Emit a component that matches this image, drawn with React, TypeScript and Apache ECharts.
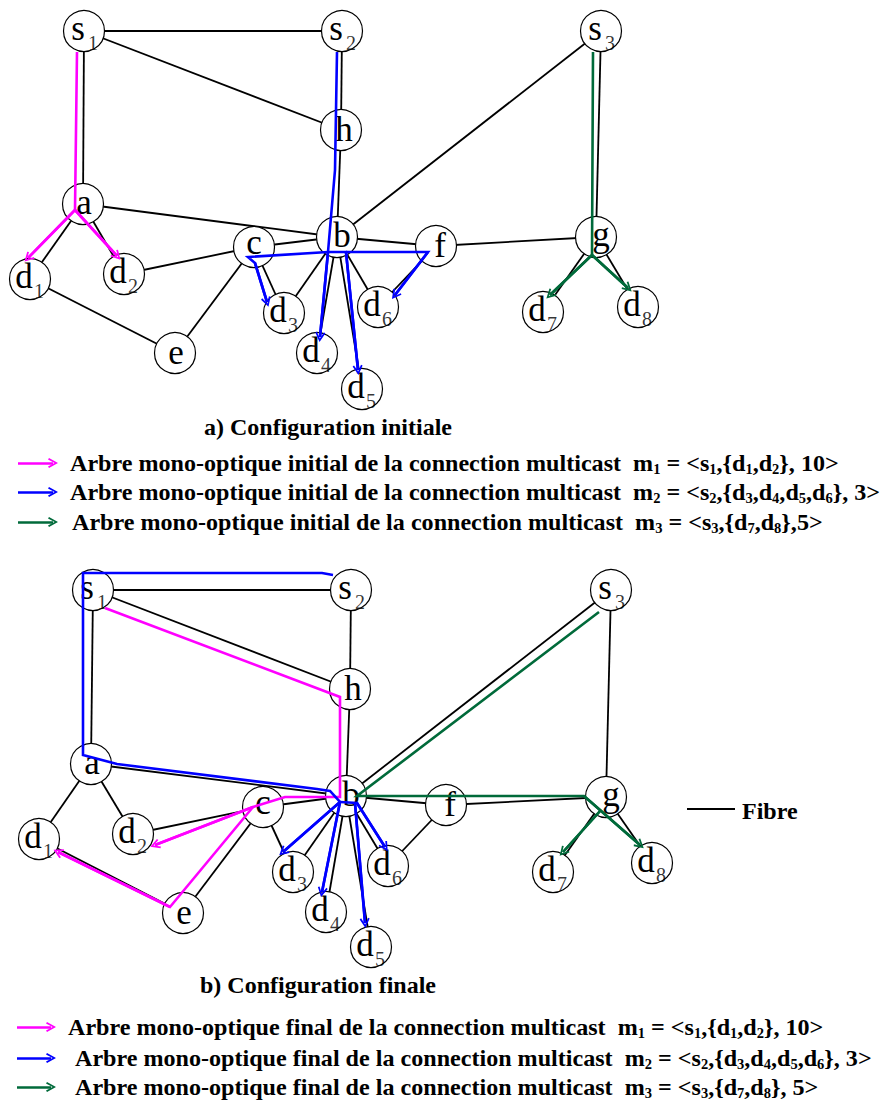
import React, { useEffect, useRef } from "react";
import * as echarts from "echarts";

type Pt = [number, number];

// ---------- DATA ----------
const nodeIds = ["s1", "s2", "s3", "h", "a", "b", "c", "f", "g", "d1", "d2", "d3", "d4", "d5", "d6", "d7", "d8", "e"];
// a) initial configuration (upper network)
const topX = [84, 342, 601, 341, 83, 337, 254, 436, 596, 30, 124, 284, 317, 362, 378, 543, 638, 175];
const topY = [31, 31, 31, 130, 204, 237, 247, 246, 237, 279, 274, 313, 353, 389, 307, 312, 307, 353];
// b) final configuration (lower network)
const botX = [93, 351, 611, 350, 91, 346, 263, 446, 606, 39, 133, 293, 326, 371, 388, 553, 652, 183];
const botY = [590, 590, 590, 689, 764, 796, 807, 805, 797, 839, 834, 872, 912, 947, 866, 872, 863, 913];

// fibre links
const edgeList: [string, string][] = [
  ["s1", "s2"], ["s1", "h"], ["s1", "a"], ["s2", "h"], ["h", "b"], ["a", "b"],
  ["a", "d1"], ["a", "d2"], ["d1", "e"], ["c", "d2"], ["c", "e"], ["c", "b"],
  ["c", "d3"], ["b", "d3"], ["b", "d4"], ["b", "d5"], ["b", "d6"], ["b", "f"],
  ["f", "d6"], ["b", "s3"], ["f", "g"], ["s3", "g"], ["g", "d7"], ["g", "d8"],
];

// light-trees (routes)
const topMagenta: Pt[][] = [
  [[77, 52], [75, 210], [28, 258]],
  [[75, 210], [117, 256]],
];
const topBlue: Pt[][] = [
  [[337, 52], [335, 170], [328, 252], [320, 337]],
  [[328, 252], [248, 257], [255, 263], [267, 302]],
  [[328, 252], [346, 252], [358, 370]],
  [[346, 252], [428, 252], [395, 295]],
];
const topGreen: Pt[][] = [
  [[593, 52], [592, 255], [550, 295]],
  [[592, 255], [628, 288]],
];
const botMagenta: Pt[][] = [
  [[105, 608], [340, 697], [340, 797], [285, 797], [253, 807], [155, 845]],
  [[253, 807], [170, 907], [58, 852]],
];
const botBlue: Pt[][] = [
  [[333, 575], [322, 573], [83, 573], [83, 755], [117, 764], [317, 789], [330, 791], [340, 802], [283, 852]],
  [[340, 802], [322, 892]],
  [[340, 802], [357, 803], [385, 847]],
  [[355, 803], [365, 923]],
];
const botGreen: Pt[][] = [
  [[599, 612], [357, 796], [584, 796], [640, 845]],
  [[601, 810], [563, 852]],
];

const titleTop = "a) Configuration initiale";
const titleBottom = "b) Configuration finale";
const legendTop = [
  "Arbre mono-optique initial de la connection multicast  m{s|1} = <s{s|1},{d{s|1},d{s|2}}, 10>",
  "Arbre mono-optique initial de la connection multicast  m{s|2} = <s{s|2},{d{s|3},d{s|4},d{s|5},d{s|6}}, 3>",
  "Arbre mono-optique initial de la connection multicast  m{s|3} = <s{s|3},{d{s|7},d{s|8}},5>",
];
const legendBottom = [
  "Arbre mono-optique final de la connection multicast  m{s|1} = <s{s|1},{d{s|1},d{s|2}}, 10>",
  "Arbre mono-optique final de la connection multicast  m{s|2} = <s{s|2},{d{s|3},d{s|4},d{s|5},d{s|6}}, 3>",
  "Arbre mono-optique final de la connection multicast  m{s|3} = <s{s|3},{d{s|7},d{s|8}}, 5>",
];
const fibreLabel = "Fibre";

// ---------- STYLE / LAYOUT ----------
const MAGENTA = "#ff00ff";
const BLUE = "#0000ff";
const GREEN = "#006a3a";
const SERIF = "Liberation Serif";
const CHEVRON = "path://M0,9 L6,0 L12,9 L10.2,10 L6,3.4 L1.8,10 Z";

// label nudges for single-letter nodes (style only)
const letterNudge: Record<string, [number, number]> = {
  a: [1, -2], b: [5, -2], c: [0, -5], e: [1, -1], f: [4, -1], g: [5, -3], h: [3, -1],
};

const legendTopY = [463, 492, 522];
const legendBotY = [1027, 1058, 1087];
const legendTopX = [70, 70, 72];
const legendBotX = [68, 75, 75];

function pos(layout: "top" | "bot", id: string): Pt {
  const i = nodeIds.indexOf(id);
  return layout === "top" ? [topX[i], topY[i]] : [botX[i], botY[i]];
}

function buildOption(): any {
  const edgeData: any[] = [];
  (["top", "bot"] as const).forEach((L) => {
    edgeList.forEach(([u, v]) => edgeData.push({ coords: [pos(L, u), pos(L, v)] }));
  });

  const nodeData: any[] = [];
  const subData: any[] = [];
  nodeIds.forEach((id, i) => {
    const hasSub = id.length > 1;
    const off: [number, number] = hasSub ? [-6, -3] : letterNudge[id] || [0, 0];
    [[topX[i], topY[i]], [botX[i], botY[i]]].forEach(([x, y]) => {
      nodeData.push({ value: [x, y, id], label: { offset: off } });
      if (hasSub) subData.push([x, y, id]);
    });
  });

  const colorRoutes = [
    { color: MAGENTA, paths: [...topMagenta, ...botMagenta], legendIdx: 0 },
    { color: BLUE, paths: [...topBlue, ...botBlue], legendIdx: 1 },
    { color: GREEN, paths: [...topGreen, ...botGreen], legendIdx: 2 },
  ];

  const series: any[] = [
    {
      type: "lines",
      coordinateSystem: "cartesian2d",
      z: 1,
      silent: true,
      lineStyle: { color: "#000", width: 1.8, opacity: 1 },
      data: [...edgeData, { coords: [[687, 809], [735, 809]] }],
    },
    {
      type: "scatter",
      coordinateSystem: "cartesian2d",
      z: 2,
      symbol: "circle",
      symbolSize: 41,
      silent: true,
      itemStyle: { color: "#fff", borderColor: "#000", borderWidth: 1.2, opacity: 1 },
      label: {
        show: true,
        position: "inside",
        color: "#000",
        textBorderWidth: 0,
        fontFamily: SERIF,
        fontSize: 35,
        formatter: (p: any) => String(p.value[2])[0],
      },
      data: nodeData,
    },
    {
      type: "scatter",
      coordinateSystem: "cartesian2d",
      z: 2,
      symbol: "circle",
      symbolSize: 1,
      silent: true,
      itemStyle: { color: "rgba(255,255,255,0)" },
      label: {
        show: true,
        position: "inside",
        offset: [9, 12],
        color: "#000",
        textBorderWidth: 0,
        fontFamily: SERIF,
        fontSize: 20,
        formatter: (p: any) => String(p.value[2]).slice(1),
      },
      data: subData,
    },
  ];

  colorRoutes.forEach((r) => {
    series.push({
      type: "lines",
      coordinateSystem: "cartesian2d",
      polyline: true,
      z: 3,
      silent: true,
      lineStyle: { color: r.color, width: 2.6, opacity: 1, join: "miter" },
      data: r.paths.map((p) => ({ coords: p })),
    });
    const arrows: any[] = r.paths.map((p) => ({ coords: [p[p.length - 2], p[p.length - 1]] }));
    arrows.push({ coords: [[18, legendTopY[r.legendIdx]], [53, legendTopY[r.legendIdx]]] });
    arrows.push({ coords: [[17, legendBotY[r.legendIdx]], [51, legendBotY[r.legendIdx]]] });
    series.push({
      type: "lines",
      coordinateSystem: "cartesian2d",
      z: 4,
      silent: true,
      symbol: ["none", CHEVRON],
      symbolSize: [12, 10],
      lineStyle: { color: r.color, width: 2.6, opacity: 1 },
      data: arrows,
    });
  });

  const legendText = (text: string, x: number, y: number) => ({
    type: "text",
    x,
    y,
    style: {
      text,
      fill: "#000",
      fontFamily: SERIF,
      fontWeight: "bold",
      fontSize: 24.1,
      lineHeight: 26,
      verticalAlign: "middle",
      align: "left",
      rich: {
        s: { fontFamily: SERIF, fontWeight: "bold", fontSize: 14.5, lineHeight: 18, verticalAlign: "bottom", fill: "#000" },
      },
    },
  });

  const plainText = (text: string, x: number, y: number, size: number, align: string) => ({
    type: "text",
    x,
    y,
    style: { text, fill: "#000", fontFamily: SERIF, fontWeight: "bold", fontSize: size, align, verticalAlign: "middle" },
  });

  const graphic: any[] = [
    plainText(titleTop, 328, 427, 24, "center"),
    plainText(titleBottom, 318, 985, 24, "center"),
    plainText(fibreLabel, 742, 811, 24, "left"),
    ...legendTop.map((t, i) => legendText(t, legendTopX[i], legendTopY[i])),
    ...legendBottom.map((t, i) => legendText(t, legendBotX[i], legendBotY[i])),
  ];

  return {
    animation: false,
    backgroundColor: "#fff",
    grid: { left: 0, right: 0, top: 0, bottom: 0, containLabel: false },
    xAxis: { type: "value", min: 0, max: 890, show: false },
    yAxis: { type: "value", min: 0, max: 1102, inverse: true, show: false },
    series,
    graphic,
  };
}

export default function App() {
  const ref = useRef<HTMLDivElement>(null);
  useEffect(() => {
    document.body.style.margin = "0";
    const chart = echarts.init(ref.current!, null, { renderer: "svg" });
    chart.setOption(buildOption());
    return () => chart.dispose();
  }, []);
  return <div ref={ref} style={{ width: 890, height: 1102 }} />;
}
